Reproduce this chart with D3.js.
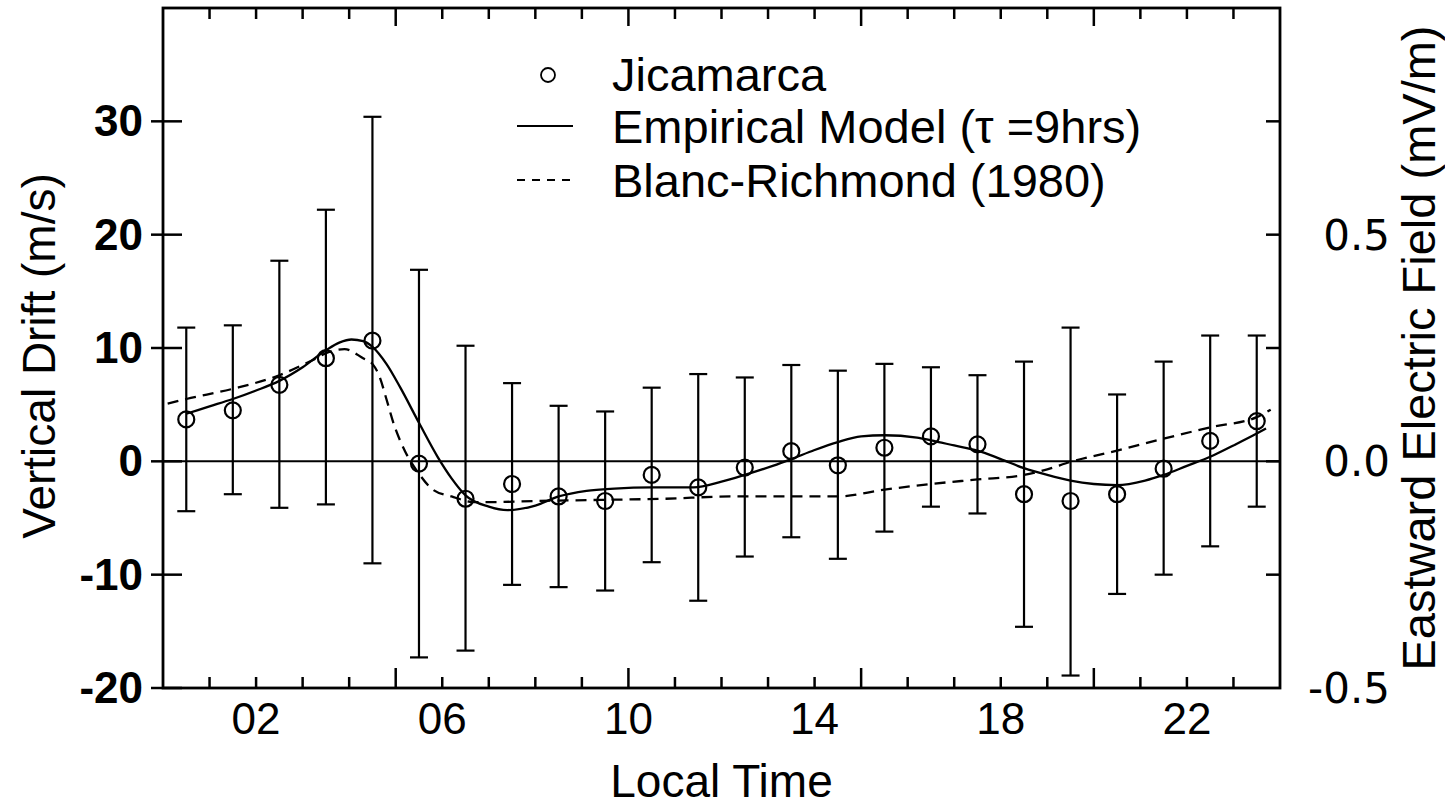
<!DOCTYPE html>
<html>
<head>
<meta charset="utf-8">
<script src="https://cdn.jsdelivr.net/npm/d3@7"></script>
<style>
  body { margin: 0; background: #fff; }
  text { font-family: "Liberation Sans", Arial, sans-serif; fill: #000; }
</style>
</head>
<body>
<div id="chart"></div>
<script>
// Jicamarca hourly means and error bars
const hours = [0.5, 1.5, 2.5, 3.5, 4.5, 5.5, 6.5, 7.5, 8.5, 9.5, 10.5, 11.5,
               12.5, 13.5, 14.5, 15.5, 16.5, 17.5, 18.5, 19.5, 20.5, 21.5, 22.5, 23.5];
const drift = [3.7, 4.5, 6.75, 9.1, 10.65, -0.2, -3.3, -2.0, -3.1, -3.5, -1.2, -2.3,
               -0.55, 0.9, -0.35, 1.2, 2.2, 1.5, -2.9, -3.5, -2.9, -0.65, 1.8, 3.55];
const errHigh = [11.8, 12.0, 17.7, 22.2, 30.4, 16.9, 10.2, 6.9, 4.9, 4.4, 6.5, 7.7,
                 7.4, 8.5, 8.0, 8.6, 8.3, 7.6, 8.8, 11.8, 5.9, 8.8, 11.1, 11.1];
const errLow = [-4.4, -2.9, -4.1, -3.8, -9.0, -17.3, -16.7, -10.9, -11.1, -11.4, -8.9, -12.3,
                -8.4, -6.7, -8.6, -6.2, -4.0, -4.6, -14.6, -18.9, -11.7, -10.0, -7.5, -4.0];

// empirical model (tau = 9 hrs)
const modelHours = [0.5, 1.0, 1.5, 2.0, 2.5, 3.0, 3.5, 3.8, 4.05, 4.3, 4.5, 4.8, 5.1, 5.5, 5.9,
                    6.2, 6.5, 7.0, 7.4, 8.0, 8.5, 9.1, 9.7, 10.5, 11.4, 12.0, 12.5, 13.1, 13.5,
                    14.0, 14.5, 15.0, 15.5, 16.2, 16.5, 17.0, 17.5, 18.0, 18.5, 19.0, 19.5,
                    20.0, 20.5, 21.1, 21.5, 22.0, 22.5, 23.0, 23.5, 23.7];
const modelDrift = [4.2, 4.85, 5.5, 6.25, 7.1, 8.3, 9.8, 10.5, 10.75, 10.6, 10.1, 8.6, 6.5, 3.4, 0.4,
                    -1.5, -3.0, -4.0, -4.3, -3.9, -3.1, -2.6, -2.4, -2.3, -2.3, -1.8, -1.2, -0.4, 0.2,
                    1.0, 1.7, 2.2, 2.3, 2.1, 1.85, 1.4, 0.95, 0.2, -0.6, -1.2, -1.7,
                    -2.0, -2.1, -1.7, -1.2, -0.4, 0.4, 1.4, 2.45, 2.9];

// Blanc-Richmond (1980)
const brHours = [0.1, 0.5, 1.5, 2.5, 3.2, 3.6, 3.9, 4.3, 4.5, 4.65, 4.8, 4.95, 5.2, 5.5, 5.8,
                 6.2, 6.7, 7.0, 8.0, 9.4, 10.8, 12.2, 13.7, 14.5, 15.5, 16.5, 17.5, 18.5,
                 19.0, 19.5, 20.5, 21.5, 22.5, 23.5, 23.8];
const brDrift = [5.1, 5.5, 6.4, 7.6, 8.9, 9.7, 9.9, 9.1, 8.6, 7.5, 5.5, 3.4, 0.9, -1.1, -2.5,
                 -3.1, -3.6, -3.6, -3.5, -3.4, -3.3, -3.1, -3.1, -3.1, -2.5, -2.0, -1.6, -1.2,
                 -0.7, -0.05, 0.95, 2.0, 3.0, 3.9, 4.55];

const xLabels = ["02", "06", "10", "14", "18", "22"];
const xLabelHours = [2, 6, 10, 14, 18, 22];
const yTicks = [-20, -10, 0, 10, 20, 30];
const eTicks = [-0.5, 0.0, 0.5];
const eMinor = [-0.25, 0, 0.25, 0.5, 0.75];

const W = 1445, H = 810;
const margin = { top: 8, right: 165, bottom: 122, left: 163 };

const svg = d3.select("#chart").append("svg")
    .attr("width", W)
    .attr("height", H);

const x = d3.scaleLinear().domain([0, 24]).range([margin.left, W - margin.right]);
const y = d3.scaleLinear().domain([-20, 40]).range([H - margin.bottom, margin.top]);
const yE = d3.scaleLinear().domain([-0.5, 1.0]).range([H - margin.bottom, margin.top]);

const x0 = x(0), x1 = x(24), y0 = y(-20), y1 = y(40);

// hour ticks top and bottom (long every 5 hrs)
const hourTicks = d3.range(1, 24);
svg.append("g").selectAll("line.bt")
    .data(hourTicks).enter().append("line")
    .attr("x1", d => x(d)).attr("x2", d => x(d))
    .attr("y1", y0).attr("y2", d => y0 - (d % 5 === 0 ? 20 : 11))
    .attr("stroke", "#000").attr("stroke-width", 2.5);
svg.append("g").selectAll("line.tt")
    .data(hourTicks).enter().append("line")
    .attr("x1", d => x(d)).attr("x2", d => x(d))
    .attr("y1", y1).attr("y2", d => y1 + (d % 5 === 0 ? 18 : 11))
    .attr("stroke", "#000").attr("stroke-width", 2.5);

// left ticks, in and out
svg.append("g").selectAll("line")
    .data(yTicks).enter().append("line")
    .attr("x1", x0 - 12).attr("x2", x0 + 19)
    .attr("y1", d => y(d)).attr("y2", d => y(d))
    .attr("stroke", "#000").attr("stroke-width", 2.5);

// right ticks, inward
svg.append("g").selectAll("line")
    .data(eMinor).enter().append("line")
    .attr("x1", x1 - 14).attr("x2", x1)
    .attr("y1", d => yE(d)).attr("y2", d => yE(d))
    .attr("stroke", "#000").attr("stroke-width", 2.5);

// zero line
svg.append("line")
    .attr("x1", x0).attr("x2", x1)
    .attr("y1", y(0)).attr("y2", y(0))
    .attr("stroke", "#000").attr("stroke-width", 2);

// frame
svg.append("rect")
    .attr("x", x0).attr("y", y1)
    .attr("width", x1 - x0).attr("height", y0 - y1)
    .attr("fill", "none").attr("stroke", "#000").attr("stroke-width", 2.8);

// left tick labels
svg.append("g").selectAll("text")
    .data(yTicks).enter().append("text")
    .attr("x", x0 - 20).attr("y", d => y(d) + 15)
    .attr("text-anchor", "end")
    .attr("font-size", 44).attr("font-weight", "bold")
    .text(d => d);

// right tick labels (plain hyphen for the minus)
svg.append("g").selectAll("text")
    .data(eTicks).enter().append("text")
    .attr("x", 1390).attr("y", d => yE(d) + 15)
    .attr("text-anchor", "end")
    .attr("font-size", 42)
    .style("font-family", "'DejaVu Sans', sans-serif")
    .text(d => d3.format(".1f")(d).replace("\u2212", "-"));

// bottom labels
svg.append("g").selectAll("text")
    .data(xLabelHours).enter().append("text")
    .attr("x", d => x(d)).attr("y", 734)
    .attr("text-anchor", "middle")
    .attr("font-size", 44)
    .text((d, i) => xLabels[i]);

// axis titles
svg.append("text")
    .attr("x", (x0 + x1) / 2).attr("y", 797)
    .attr("text-anchor", "middle").attr("font-size", 46)
    .text("Local Time");
svg.append("text")
    .attr("transform", `translate(55,${(y0 + y1) / 2 + 8}) rotate(-90)`)
    .attr("text-anchor", "middle").attr("font-size", 46)
    .text("Vertical Drift (m/s)");
svg.append("text")
    .attr("transform", `translate(1435,${(y0 + y1) / 2}) rotate(-90)`)
    .attr("text-anchor", "middle").attr("font-size", 47)
    .text("Eastward Electric Field (mV/m)");

// curves
const line = d3.line().x(d => x(d[0])).y(d => y(d[1])).curve(d3.curveMonotoneX);
svg.append("path")
    .datum(modelHours.map((h, i) => [h, modelDrift[i]]))
    .attr("d", line)
    .attr("fill", "none").attr("stroke", "#000").attr("stroke-width", 2.3);
svg.append("path")
    .datum(brHours.map((h, i) => [h, brDrift[i]]))
    .attr("d", line)
    .attr("fill", "none").attr("stroke", "#000").attr("stroke-width", 2.3)
    .attr("stroke-dasharray", "11,7");

// error bars
const bars = svg.append("g").selectAll("g")
    .data(hours).enter().append("g");
bars.append("line")
    .attr("x1", d => x(d)).attr("x2", d => x(d))
    .attr("y1", (d, i) => y(errLow[i])).attr("y2", (d, i) => y(errHigh[i]))
    .attr("stroke", "#000").attr("stroke-width", 2.2);
bars.append("line")
    .attr("x1", d => x(d) - 9).attr("x2", d => x(d) + 9)
    .attr("y1", (d, i) => y(errLow[i])).attr("y2", (d, i) => y(errLow[i]))
    .attr("stroke", "#000").attr("stroke-width", 2.2);
bars.append("line")
    .attr("x1", d => x(d) - 9).attr("x2", d => x(d) + 9)
    .attr("y1", (d, i) => y(errHigh[i])).attr("y2", (d, i) => y(errHigh[i]))
    .attr("stroke", "#000").attr("stroke-width", 2.2);
bars.append("circle")
    .attr("cx", d => x(d)).attr("cy", (d, i) => y(drift[i]))
    .attr("r", 8)
    .attr("fill", "none").attr("stroke", "#000").attr("stroke-width", 2.2);

// legend
const leg = svg.append("g");
leg.append("circle").attr("cx", 548).attr("cy", 75).attr("r", 7)
    .attr("fill", "none").attr("stroke", "#000").attr("stroke-width", 1.8);
leg.append("line").attr("x1", 517).attr("x2", 573).attr("y1", 126).attr("y2", 126)
    .attr("stroke", "#000").attr("stroke-width", 2);
leg.append("line").attr("x1", 517).attr("x2", 573).attr("y1", 180).attr("y2", 180)
    .attr("stroke", "#000").attr("stroke-width", 2).attr("stroke-dasharray", "8,7");
const legendText = ["Jicamarca", "Empirical Model (\u03c4 =9hrs)", "Blanc-Richmond (1980)"];
leg.selectAll("text").data(legendText).enter().append("text")
    .attr("x", 612).attr("y", (d, i) => [91, 143, 197][i])
    .attr("font-size", 47)
    .text(d => d);
</script>
</body>
</html>
